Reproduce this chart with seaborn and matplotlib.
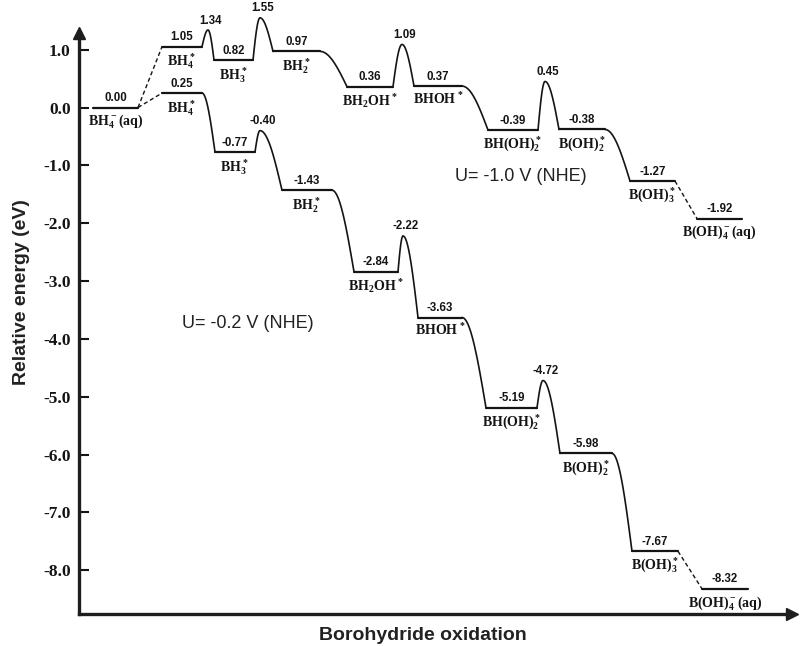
import numpy as np
import pandas as pd
import matplotlib
matplotlib.use("Agg")
import matplotlib.pyplot as plt
import seaborn as sns

# ---------------- data ----------------
species = [r"$BH_4^-(aq)$", r"$BH_4^*$", r"$BH_3^*$", r"$BH_2^*$", r"$BH_2OH^*$",
           r"$BHOH^*$", r"$BH(OH)_2^*$", r"$B(OH)_2^*$", r"$B(OH)_3^*$",
           r"$B(OH)_4^-(aq)$"]
# U = -1.0 V (NHE)
e_high = [0.00, 1.05, 0.82, 0.97, 0.36, 0.37, -0.39, -0.38, -1.27, -1.92]
ts_high = [np.nan, 1.34, 1.55, np.nan, 1.09, np.nan, 0.45, np.nan, np.nan]
# U = -0.2 V (NHE)
e_low = [0.00, 0.25, -0.77, -1.43, -2.84, -3.63, -5.19, -5.98, -7.67, -8.32]
ts_low = [np.nan, np.nan, -0.40, np.nan, -2.22, np.nan, -4.72, np.nan, np.nan]

ytick_vals = [1.0, 0.0, -1.0, -2.0, -3.0, -4.0, -5.0, -6.0, -7.0, -8.0]
ytick_labels = ["1.0", "0.0", "-1.0", "-2.0", "-3.0", "-4.0", "-5.0", "-6.0", "-7.0", "-8.0"]
label_high = "U= -1.0 V (NHE)"
label_low = "U= -0.2 V (NHE)"

# ---------------- layout (horizontal positions of levels) ----------------
lvl_x_high = [(93, 138), (162, 202), (214, 253), (273, 320), (347, 393), (414, 462),
              (488, 538), (559, 605), (630, 675), (697, 742)]
peak_x_high = [None, 208, 260, None, 402, None, 545, None, None]
lvl_x_low = [(93, 138), (162, 202), (215, 255), (282, 332), (354, 398), (418, 462),
             (486, 537), (560, 612), (632, 678), (702, 748)]
peak_x_low = [None, None, 260, None, 403, None, 543, None, None]

sns.set_theme(style="white")
plt.rcParams["font.family"] = ["Liberation Sans", "DejaVu Sans"]
plt.rcParams["mathtext.fontset"] = "custom"
plt.rcParams["mathtext.rm"] = "Liberation Serif:bold"
plt.rcParams["mathtext.it"] = "Liberation Serif:bold"
plt.rcParams["mathtext.bf"] = "Liberation Serif:bold"

INK = "#141414"


def ts_curve(x0, y0, xp, yp, x1, y1, n=40):
    t = np.linspace(0, 1, n)
    xa = x0 + (xp - x0) * t
    ya = y0 + (yp - y0) * np.sin(np.pi * t / 2)
    xb = xp + (x1 - xp) * t
    yb = yp - (yp - y1) * (1 - np.cos(np.pi * t / 2))
    return np.concatenate([xa, xb[1:]]), np.concatenate([ya, yb[1:]])


def step_curve(x0, y0, x1, y1, n=40):
    t = np.linspace(0, 1, n)
    return x0 + (x1 - x0) * t, y0 + (y1 - y0) * (1 - np.cos(np.pi * t / 2))


levels, curves, dashes = [], [], []
seg = 0
for path, (en, ts, lx, px) in enumerate([(e_high, ts_high, lvl_x_high, peak_x_high),
                                          (e_low, ts_low, lvl_x_low, peak_x_low)]):
    for i, e in enumerate(en):
        if path == 1 and i == 0:
            continue
        levels.append(pd.DataFrame({"x": list(lx[i]), "y": [e, e], "seg": seg}))
        seg += 1
    for i in range(len(en) - 1):
        x0, y0 = lx[i][1], en[i]
        x1, y1 = lx[i + 1][0], en[i + 1]
        if i == 0 or i == len(en) - 2:
            dashes.append(pd.DataFrame({"x": [x0, x1], "y": [y0, y1], "seg": seg}))
        elif not np.isnan(ts[i]):
            cx, cy = ts_curve(x0, y0, px[i], ts[i], x1, y1)
            curves.append(pd.DataFrame({"x": cx, "y": cy, "seg": seg}))
        else:
            cx, cy = step_curve(x0, y0, x1, y1)
            curves.append(pd.DataFrame({"x": cx, "y": cy, "seg": seg}))
        seg += 1

df_lvl = pd.concat(levels, ignore_index=True)
df_cur = pd.concat(curves, ignore_index=True)
df_dash = pd.concat(dashes, ignore_index=True)

fig = plt.figure(figsize=(8.0, 6.46), dpi=100)
ax = fig.add_axes([79 / 800, 32 / 646, 713 / 800, 581 / 646])

sns.lineplot(data=df_lvl, x="x", y="y", units="seg", estimator=None, sort=False,
             color=INK, lw=1.6, ax=ax)
sns.lineplot(data=df_cur, x="x", y="y", units="seg", estimator=None, sort=False,
             color=INK, lw=1.2, ax=ax)
sns.lineplot(data=df_dash, x="x", y="y", units="seg", estimator=None, sort=False,
             color=INK, lw=1.0, ax=ax, dashes=False, linestyle=(0, (3, 2)))
for ln in ax.lines:
    ln.set_clip_on(False)

val_font = dict(family="Liberation Sans", weight="bold", size=8.3, color=INK)
sp_font = dict(family="Liberation Serif", weight="bold", size=10, color=INK)

for path, (en, ts, lx, px) in enumerate([(e_high, ts_high, lvl_x_high, peak_x_high),
                                          (e_low, ts_low, lvl_x_low, peak_x_low)]):
    for i, e in enumerate(en):
        if path == 1 and i == 0:
            continue
        cx = (lx[i][0] + lx[i][1]) / 2
        ax.annotate(f"{e:.2f}", (cx, e), xytext=(0, 2.5), textcoords="offset points",
                    ha="center", va="bottom", annotation_clip=False, **val_font)
        ax.annotate(species[i], (cx, e), xytext=(0, -3.5), textcoords="offset points",
                    ha="center", va="top", annotation_clip=False, **sp_font)
    for i, t in enumerate(ts):
        if not np.isnan(t):
            ax.annotate(f"{t:.2f}", (px[i] + 3, t), xytext=(0, 2.5),
                        textcoords="offset points", ha="center", va="bottom",
                        annotation_clip=False, **val_font)

ax.text(455, -1.184, label_high, ha="left", va="center", fontsize=13,
        family="Liberation Sans", color="#222222")
ax.text(182, -3.725, label_low, ha="left", va="center", fontsize=13,
        family="Liberation Sans", color="#222222")

ax.set_xlim(79, 792)
ax.set_ylim(-8.755, 1.288)
ax.set_xticks([])
ax.set_yticks(ytick_vals)
ax.set_yticklabels(ytick_labels, family="Liberation Serif", weight="bold", fontsize=12.5,
                   color=INK)
ax.tick_params(axis="y", direction="in", length=7, width=1.5, color=INK, pad=6, left=True)
ax.set_xlabel("")
ax.set_ylabel("")
for s in ["top", "right"]:
    ax.spines[s].set_visible(False)
for s in ["left", "bottom"]:
    ax.spines[s].set_linewidth(2.4)
    ax.spines[s].set_color("#1e1e1e")
ax.plot([0], [1], marker="^", ms=9, color="#1e1e1e", transform=ax.transAxes, clip_on=False)
ax.plot([1], [0], marker=">", ms=9, color="#1e1e1e", transform=ax.transAxes, clip_on=False)

fig.text(22 / 800, 1 - 292 / 646, "Relative energy (eV)", rotation=90, ha="center",
         va="center", fontsize=14, weight="bold", family="Liberation Sans", color="#222222")
fig.text(423 / 800, 1 - 636 / 646, "Borohydride oxidation", ha="center", va="center",
         fontsize=14, weight="bold", family="Liberation Sans", color="#222222")

fig.savefig("out.png", dpi=100)
